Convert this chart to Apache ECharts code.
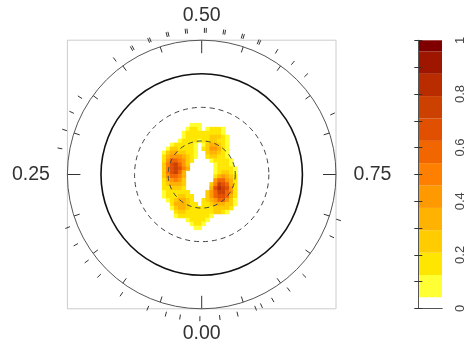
<!DOCTYPE html>
<html>
<head>
<meta charset="utf-8">
<script src="https://cdn.jsdelivr.net/npm/echarts@6/dist/echarts.min.js"></script>
<style>
  html, body { margin: 0; padding: 0; background: #ffffff; }
  #chart { width: 467px; height: 349px; }
</style>
</head>
<body>
<div id="chart"></div>
<script>
// Circular axis: ticks in fractions of a full turn
const angleTicks = [0, 0.25, 0.5, 0.75];
const angleTickLabels = ['0.00', '0.25', '0.50', '0.75'];

// Observed directions (fraction of a turn), drawn as a rug outside the circle
const observations = [
  0.002, 0.024, 0.040, 0.061, 0.094, 0.126, 0.147, 0.169, 0.190,
  0.279, 0.300, 0.321, 0.340, 0.397,
  0.419, 0.421, 0.440, 0.442, 0.461, 0.463, 0.482, 0.484,
  0.503, 0.505, 0.524, 0.526, 0.545, 0.547, 0.564, 0.566,
  0.587, 0.609, 0.629, 0.681, 0.801, 0.821, 0.874, 0.897,
  0.918, 0.932, 0.939, 0.960, 0.980
];

// Reference circles (fraction of the unit radius)
const refRadii = [0.75, 0.5, 0.25];

// Density levels and the colour of each level
const levelBreaks = [0, 0.042, 0.125, 0.208, 0.292, 0.375, 0.458, 0.542,
                     0.625, 0.708, 0.792, 0.875, 0.958, 1];
const levelColors = ['#ffffff', '#ffff33', '#ffe600', '#ffcc00', '#ffb300',
                     '#ff9900', '#ff8000', '#f26600', '#e05000', '#cc4000',
                     '#b82c00', '#9e1600', '#800000'];
const barTickValues = [0, 0.2, 0.4, 0.6, 0.8, 1];
const barTickLabels = ['0', '0.2', '0.4', '0.6', '0.8', '1'];

// Density field on a 68 x 68 lattice over the unit disc; each character is
// the level index of one cell. Only the window holding non-empty cells is listed.
const fieldSize = 68;
const fieldWindow = { row: 21, col: 23 };
const densityRows = [
  '0000000011100000000000',
  '0000000122101222100000',
  '0000001222222222100000',
  '0000001222222333210000',
  '0000012222122332210000',
  '0001222221013443210000',
  '0013322221023554210000',
  '0134433221003443210000',
  '0245554321002332210000',
  '0257765320000122221000',
  '0368975300000012221000',
  '0368986400000012222100',
  '0368974000000012332100',
  '0357764000000024543200',
  '0245653000000057754200',
  '0234443000000369874200',
  '022333200000048a985200',
  '0122222200003579975200',
  '0122233220003578874200',
  '0012344320023457753100',
  '0002444322022344433100',
  '0001344322222233332000',
  '0000233222222233210000',
  '0000122222222100000000',
  '0000000122221000000000',
  '0000000012210000000000',
  '0000000001100000000000'
];

// ---- layout ----
const CX = 201.7, CY = 174.5, R = 134.3;

const cellIds = [];
for (let i = 0; i < fieldSize; i++) cellIds.push(String(i));

const bandMid = levelBreaks.slice(0, -1).map((b, k) => (b + levelBreaks[k + 1]) / 2);

const heatData = [];
densityRows.forEach((row, i) => {
  for (let j = 0; j < row.length; j++) {
    const lvl = parseInt(row[j], 36);
    if (lvl > 0) heatData.push([fieldWindow.col + j, fieldWindow.row + i, bandMid[lvl]]);
  }
});

const pieces = levelColors.map((c, k) => (
  k === levelColors.length - 1
    ? { gte: levelBreaks[k], lte: levelBreaks[k + 1], color: c }
    : { gte: levelBreaks[k], lt: levelBreaks[k + 1], color: c }
));

const bandData = levelColors.map((c, k) => [0, levelBreaks[k], levelBreaks[k + 1]]);

const labelFont = { fontFamily: 'Liberation Sans, Arial, sans-serif', color: '#333' };

const polars = [{ center: [CX, CY], radius: R }];
const angleAxes = [{
  polarIndex: 0, type: 'value', min: 0, max: 1, interval: 0.25,
  startAngle: 270, clockwise: true, z: 10,
  axisLine: { show: true, lineStyle: { color: '#555', width: 1 } },
  axisTick: { show: true, inside: true, length: 13, lineStyle: { color: '#333', width: 1 } },
  minorTick: { show: true, splitNumber: 5, length: 6, lineStyle: { color: '#333', width: 1 } },
  axisLabel: {
    show: true, margin: 17.5, fontSize: 19.5, lineHeight: 14, ...labelFont,
    formatter: v => {
      const i = angleTicks.findIndex(t => Math.abs(t - v) < 1e-9);
      return i >= 0 ? angleTickLabels[i] : '';
    }
  },
  splitLine: { show: false }
}];
const radiusAxes = [{ polarIndex: 0, type: 'value', min: 0, max: 1, show: false }];

refRadii.forEach((rr, k) => {
  const idx = k + 1;
  polars.push({ center: [CX, CY], radius: R * rr });
  angleAxes.push({
    polarIndex: idx, type: 'value', min: 0, max: 1, startAngle: 270, z: 10,
    axisLine: {
      show: true,
      lineStyle: k === 0
        ? { color: '#111', width: 1.6 }
        : { color: '#444', width: 1, type: [5, 4] }
    },
    axisTick: { show: false }, axisLabel: { show: false }, splitLine: { show: false }
  });
  radiusAxes.push({ polarIndex: idx, type: 'value', min: 0, max: 1, show: false });
});

const barAxisCommon = {
  gridIndex: 1, type: 'value', min: 0, max: 1, interval: 0.1, z: 10,
  axisLine: { show: true, lineStyle: { color: '#555', width: 1 } },
  axisTick: { show: true, inside: true, length: 4, lineStyle: { color: '#333', width: 1 } },
  splitLine: { show: false }
};

const option = {
  animation: false,
  backgroundColor: '#ffffff',
  grid: [
    { left: CX - R, top: CY - R, width: 2 * R, height: 2 * R, show: true,
      borderColor: '#cccccc', borderWidth: 1, backgroundColor: 'transparent' },
    { left: 418.3, top: 40.3, width: 24.4, height: 268.2, show: false }
  ],
  xAxis: [
    { gridIndex: 0, type: 'category', data: cellIds, show: false },
    { gridIndex: 1, type: 'value', min: 0, max: 1, position: 'bottom', z: 10,
      axisLine: { show: true, lineStyle: { color: '#555', width: 1 } },
      axisTick: { show: false }, axisLabel: { show: false }, splitLine: { show: false } },
    { gridIndex: 1, type: 'value', min: 0, max: 1, position: 'top', z: 10,
      axisLine: { show: true, lineStyle: { color: '#555', width: 1 } },
      axisTick: { show: false }, axisLabel: { show: false }, splitLine: { show: false } }
  ],
  yAxis: [
    { gridIndex: 0, type: 'category', data: cellIds, inverse: true, show: false },
    { ...barAxisCommon, position: 'left', axisLabel: { show: false } },
    { ...barAxisCommon, position: 'right',
      axisLabel: {
        show: true, rotate: 90, margin: 12, fontSize: 13, ...labelFont, color: '#444',
        formatter: v => {
          const i = barTickValues.findIndex(t => Math.abs(t - v) < 1e-6);
          return i >= 0 ? barTickLabels[i] : '';
        }
      } }
  ],
  polar: polars,
  angleAxis: angleAxes,
  radiusAxis: radiusAxes,
  visualMap: {
    type: 'piecewise', show: false, seriesIndex: 0, dimension: 2, pieces: pieces
  },
  series: [
    {
      type: 'heatmap', xAxisIndex: 0, yAxisIndex: 0, data: heatData, z: 2,
      emphasis: { disabled: true }
    },
    {
      type: 'custom', coordinateSystem: 'polar', polarIndex: 0, z: 3,
      data: observations.map(v => [1, v]),
      renderItem: (params, api) => {
        const a = api.value(1);
        const p1 = api.coord([1.055, a]);
        const p2 = api.coord([1.092, a]);
        return {
          type: 'line',
          shape: { x1: p1[0], y1: p1[1], x2: p2[0], y2: p2[1] },
          style: { stroke: '#333', lineWidth: 1 }
        };
      }
    },
    {
      type: 'custom', coordinateSystem: 'cartesian2d', xAxisIndex: 1, yAxisIndex: 1, z: 2,
      data: bandData,
      renderItem: (params, api) => {
        const lo = api.coord([0, api.value(1)]);
        const hi = api.coord([1, api.value(2)]);
        return {
          type: 'rect',
          shape: { x: lo[0], y: hi[1], width: hi[0] - lo[0], height: lo[1] - hi[1] },
          style: { fill: levelColors[params.dataIndex] }
        };
      }
    }
  ]
};

const chart = echarts.init(document.getElementById('chart'), null, { renderer: 'canvas' });
chart.setOption(option);
</script>
</body>
</html>
